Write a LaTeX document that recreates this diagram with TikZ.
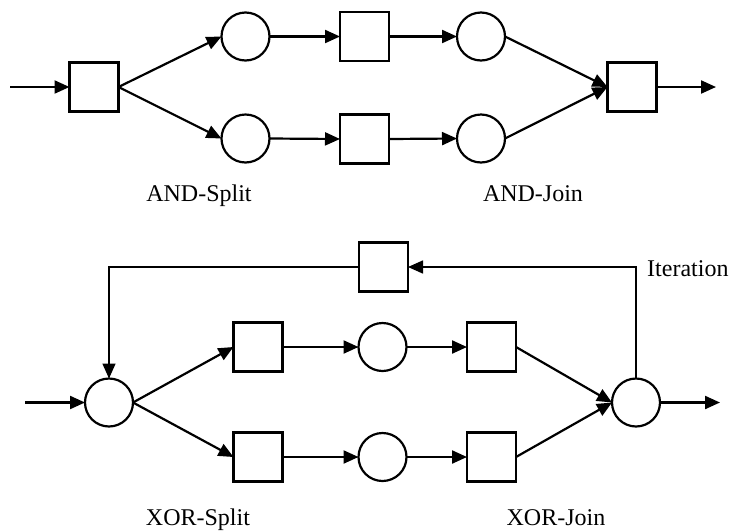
\documentclass[tikz,border=0pt]{standalone}
\usepackage{fontspec}
\setmainfont{Liberation Serif}
\usetikzlibrary{arrows.meta}
\begin{document}
\begin{tikzpicture}[x=1pt,y=-1pt,
  trans/.style={draw,line width=2.2pt,minimum size=49pt,inner sep=0pt,outer sep=0pt},
  place/.style={draw,circle,line width=2.2pt,minimum size=48pt,inner sep=0pt,outer sep=0pt},
  flow/.style={line width=2.2pt,-{Triangle[length=15pt,width=13pt]}},
  loopline/.style={line width=1.6pt},
  lbl/.style={anchor=base,inner sep=0pt,font=\fontsize{24}{28}\selectfont}]
\useasboundingbox (0,0) rectangle (731,531);
% AND part
\coordinate (ain) at (10,87);
\node[trans] (s1) at (94,87) {};
\node[place] (pu1) at (245.5,36.5) {};
\node[place] (pl1) at (245.5,138.5) {};
\node[trans] (tu) at (364.5,36.5) {};
\node[trans] (tl) at (364.5,139) {};
\node[place] (pu2) at (481,36.5) {};
\node[place] (pl2) at (481,138.5) {};
\node[trans] (s2) at (632,87) {};
\coordinate (aout) at (716,87);
\draw[flow] (ain) -- (s1.west);
\draw[flow] (s1.east) -- (pu1.west);
\draw[flow] (s1.east) -- (pl1.west);
\draw[flow] (pu1.east) -- (tu.west);
\draw[flow] (pl1.east) -- (tl.west);
\draw[flow] (tu.east) -- (pu2.west);
\draw[flow] (tl.east) -- (pl2.west);
\draw[flow] (pu2.east) -- (s2.west);
\draw[flow] (pl2.east) -- (s2.west);
\draw[flow] (s2.east) -- (aout);
\node[lbl] (andsplit) at (199,201) {AND-Split};
\node[lbl] (andjoin) at (533,201) {AND-Join};
% XOR part
\coordinate (xin) at (25,402.5);
\node[place] (x1) at (109,402.5) {};
\node[trans] (it) at (383.5,267) {};
\node[trans] (bu1) at (258,347) {};
\node[place] (bu2) at (382.5,347) {};
\node[trans] (bu3) at (491.5,347) {};
\node[trans] (bl1) at (258,457) {};
\node[place] (bl2) at (382.5,457) {};
\node[trans] (bl3) at (491.5,457) {};
\node[place] (x2) at (636,402.5) {};
\coordinate (xout) at (720,402.5);
\draw[flow] (xin) -- (x1.west);
\draw[flow] (x1.east) -- (bu1.west);
\draw[flow] (x1.east) -- (bl1.west);
\draw[flow] (bu1.east) -- (bu2.west);
\draw[flow] (bl1.east) -- (bl2.west);
\draw[flow] (bu2.east) -- (bu3.west);
\draw[flow] (bl2.east) -- (bl3.west);
\draw[flow] (bu3.east) -- (x2.west);
\draw[flow] (bl3.east) -- (x2.west);
\draw[flow] (x2.east) -- (xout);
\draw[loopline,-{Triangle[length=15pt,width=13pt]}] (x2.north) |- (it.east);
\draw[loopline,-{Triangle[length=15pt,width=13pt]}] (it.west) -| (x1.north);
\node[lbl,anchor=base west] (iter) at (647,276) {Iteration};
\node[lbl] (xorsplit) at (198,525) {XOR-Split};
\node[lbl] (xorjoin) at (556,525) {XOR-Join};
\end{tikzpicture}
\end{document}
